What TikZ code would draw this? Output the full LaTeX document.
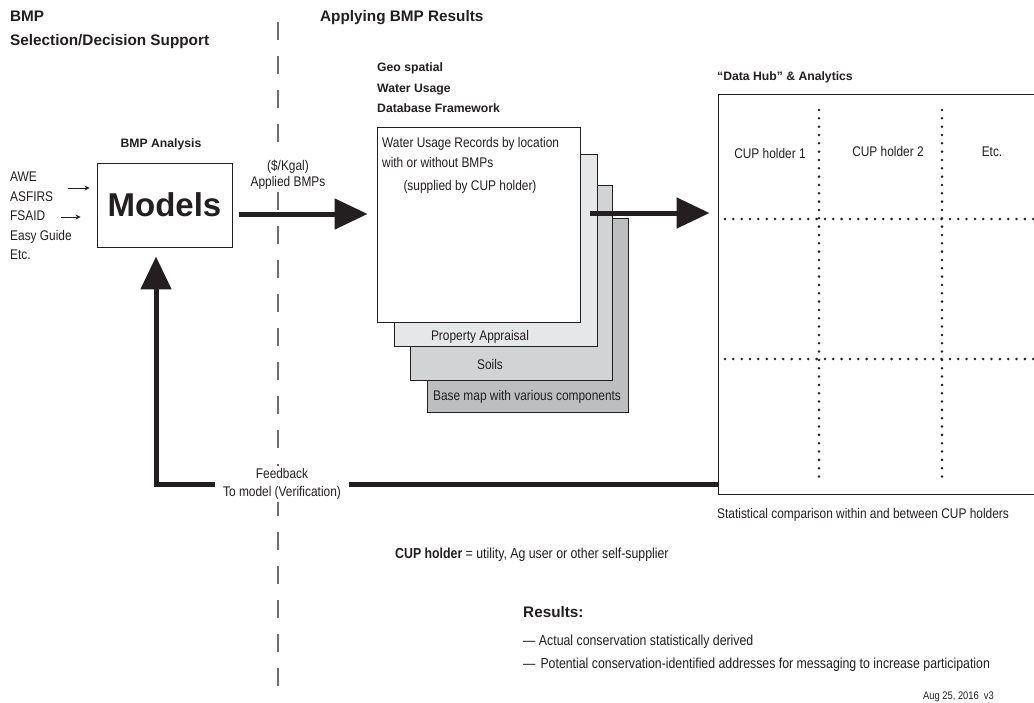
\documentclass[tikz,border=0pt]{standalone}
\usepackage{fontspec}
\setmainfont{Liberation Sans}[FakeStretch=0.85]
\newfontfamily\headfont{Liberation Sans}
\usetikzlibrary{arrows.meta}

\definecolor{ink}{HTML}{231F20}
\definecolor{layerA}{HTML}{E6E7E8}
\definecolor{layerB}{HTML}{D1D3D4}
\definecolor{layerC}{HTML}{BCBEC0}
\definecolor{divider}{HTML}{6D6E71}

\tikzset{
  txt/.style={inner sep=0pt, text=ink, font=\fontsize{14}{16}\selectfont},
  bigtxt/.style={inner sep=0pt, text=ink, font=\fontsize{14.5}{17}\selectfont},
  smalltxt/.style={inner sep=0pt, text=ink, font=\fontsize{11}{13}\selectfont},
  head/.style={inner sep=0pt, text=ink, font=\headfont\bfseries\fontsize{15.3}{18}\selectfont},
  subhead/.style={inner sep=0pt, text=ink, font=\headfont\bfseries\fontsize{12.2}{15}\selectfont},
  layer/.style={draw=ink, line width=0.9pt, inner sep=0pt},
  flow/.style={draw=ink, line width=5pt, -{Triangle[length=33pt,width=30pt]}},
  flowline/.style={draw=ink, line width=5pt},
  thin arrow/.style={draw=ink, line width=0.9pt, -{Stealth[length=5pt,width=5pt]}},
  gridline/.style={draw=ink, line width=2.8pt, line cap=round, dash pattern=on 0pt off 8.33pt},
  dividerline/.style={draw=divider, line width=1.3pt, dash pattern=on 18pt off 16pt},
}

\begin{document}
\begin{tikzpicture}[x=1pt,y=-1pt]
\useasboundingbox (0,0) rectangle (1034,702);
\clip (0,0) rectangle (1034,702);
\fill[white] (0,0) rectangle (1034,702);

% phase divider
\draw[dividerline] (278,22) -- (278,686);

% section titles
\node[head, anchor=base west] (t1) at (10,21) {BMP};
\node[head, anchor=base west] (t2) at (10,45) {Selection/Decision Support};
\node[head, anchor=base west] (t3) at (320,21) {Applying BMP Results};

% model inputs
\node[txt, anchor=base west] (awe) at (10,181) {AWE};
\node[txt, anchor=base west] (asfirs) at (10,201) {ASFIRS};
\node[txt, anchor=base west] (fsaid) at (10,220) {FSAID};
\node[txt, anchor=base west] (easy) at (10,240) {Easy Guide};
\node[txt, anchor=base west] (etc1) at (10,259) {Etc.};

% models
\node[subhead, anchor=base] (analysis) at (161,147) {BMP Analysis};
\node[draw=ink, line width=0.9pt, minimum width=135pt, minimum height=84pt, inner sep=0pt,
      font=\headfont\bfseries\fontsize{33}{36}\selectfont, text=ink] (models) at (164.5,205) {Models};

\coordinate (inA) at (68,188);
\coordinate (inB) at (61,217);
\draw[thin arrow, shorten >=7pt] (inA) -- (inA -| models.west);
\draw[thin arrow, shorten >=16pt] (inB) -- (inB -| models.west);

% database framework stack
\node[subhead, anchor=base west] (g1) at (377,71) {Geo spatial};
\node[subhead, anchor=base west] (g2) at (377,92) {Water Usage};
\node[subhead, anchor=base west] (g3) at (377,112) {Database Framework};

\node[layer, fill=layerC, minimum width=201pt, minimum height=194pt] (basemap) at (527.5,315) {};
\node[layer, fill=layerB, minimum width=202pt, minimum height=195pt] (soils) at (511,282.5) {};
\node[layer, fill=layerA, minimum width=203pt, minimum height=192pt] (appraisal) at (495.5,250) {};
\node[layer, fill=white, minimum width=203pt, minimum height=195pt] (records) at (478.5,224.5) {};

\node[txt, anchor=base west] (r1) at (382,147) {Water Usage Records by location};
\node[txt, anchor=base west] (r2) at (382,167) {with or without BMPs};
\node[txt, anchor=base] (r3) at (470,190) {(supplied by CUP holder)};
\node[txt, anchor=base] (l1) at (480,340) {Property Appraisal};
\node[txt, anchor=base] (l2) at (490,369) {Soils};
\node[txt, anchor=base] (l3) at (527,400) {Base map with various components};

% applied BMPs
\node[txt, align=center, fill=white, inner sep=2pt] (cost) at (288,175) {(\$/Kgal)\\Applied BMPs};
\draw[flow, shorten <=7pt, shorten >=9pt] ([yshift=-9pt]models.east) -- ([yshift=-9pt]models.east -| records.west);

% data hub
\node[subhead, anchor=base west] (hubtitle) at (717,80) {“Data Hub” \& Analytics};
\node[draw=ink, line width=0.9pt, minimum width=332pt, minimum height=400pt, inner sep=0pt] (hub) at (884,294) {};
\draw[gridline] (819,110) -- (819,484);
\draw[gridline] (942,110) -- (942,484);
\draw[gridline] (725,219) -- (1040,219);
\draw[gridline] (725,359) -- (1040,359);
\node[txt, anchor=base] (cup1) at (770,158) {CUP holder 1};
\node[txt, anchor=base] (cup2) at (888,156) {CUP holder 2};
\node[txt, anchor=base] (cup3) at (992,156) {Etc.};
\node[txt, anchor=base west] (stat) at (717,518) {Statistical comparison within and between CUP holders};

\coordinate (stackout) at (590,213);
\draw[flow, shorten >=8pt] (stackout) -- (stackout -| hub.west);

% feedback loop
\node[txt, align=center, fill=white, inner xsep=8pt, inner ysep=2pt,
      font=\fontsize{14}{18}\selectfont] (fb) at (282,484) {Feedback\\To model (Verification)};
\coordinate (fbin) at ([yshift=10pt]hub.south west);
\draw[flowline] (fbin) -- (fbin -| fb.east);
\draw[flow, shorten >=9pt] (fbin -| fb.west) -| ([xshift=-8.5pt]models.south);

% legend and results
\node[bigtxt, anchor=base west] (legend) at (395,558) {\textbf{CUP holder} = utility, Ag user or other self-supplier};
\node[head, anchor=base west] (results) at (523,617) {Results:};
\node[bigtxt, anchor=base west] (res1) at (523,645) {— Actual conservation statistically derived};
\node[bigtxt, anchor=base west] (res2) at (523,668) {—\hspace{5pt}Potential conservation-identified addresses for messaging to increase participation};
\node[smalltxt, anchor=base west] (date) at (923,699) {Aug 25, 2016\hspace{5pt}v3};
\end{tikzpicture}
\end{document}
